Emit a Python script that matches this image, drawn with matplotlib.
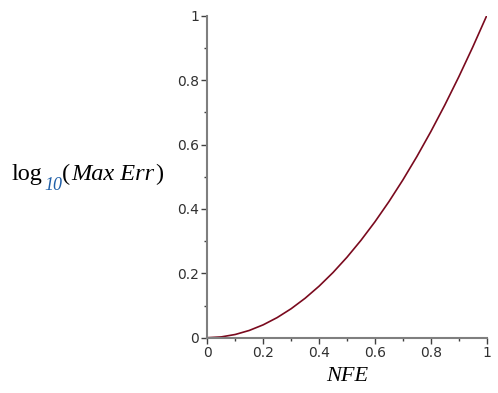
import matplotlib.pyplot as plt
from matplotlib.ticker import MultipleLocator
from matplotlib.transforms import IdentityTransform

# values
nfe = [0.0, 0.05, 0.1, 0.15, 0.2, 0.25, 0.3, 0.35, 0.4, 0.45, 0.5,
       0.55, 0.6, 0.65, 0.7, 0.75, 0.8, 0.85, 0.9, 0.95, 1.0]
max_err = [0.0, 0.0025, 0.01, 0.0225, 0.04, 0.0625, 0.09, 0.1225, 0.16, 0.2025, 0.25,
           0.3025, 0.36, 0.4225, 0.49, 0.5625, 0.64, 0.7225, 0.81, 0.9025, 1.0]
tick_vals = [0, 0.2, 0.4, 0.6, 0.8, 1]
tick_labels = ["0", "0.2", "0.4", "0.6", "0.8", "1"]

fig = plt.figure(figsize=(4.98, 3.93), dpi=100)
ax = fig.add_axes([0.4163, 0.1407, 0.561, 0.8193])

ax.plot(nfe, max_err, color="#7a0a1e", lw=1.2)

ax.set_xlim(0, 1)
ax.set_ylim(0, 1)
for s in ["top", "right"]:
    ax.spines[s].set_visible(False)
for s in ["left", "bottom"]:
    ax.spines[s].set_color("#7f7f7f")
    ax.spines[s].set_linewidth(1.5)

ax.set_xticks(tick_vals)
ax.set_xticklabels(tick_labels)
ax.set_yticks(tick_vals)
ax.set_yticklabels(tick_labels)
ax.xaxis.set_minor_locator(MultipleLocator(0.1))
ax.yaxis.set_minor_locator(MultipleLocator(0.1))
ax.tick_params(which="major", length=4, width=1, color="#404040",
               labelsize=10, labelcolor="#303030", pad=2)
ax.tick_params(which="minor", length=2.5, width=1, color="#404040")

# x label
fig.text(0.697, 0.043, "NFE", family="Liberation Serif", style="italic",
         fontsize=16, ha="center", va="center")

# y label built from pieces so the subscript can be blue
# (pixel coords, origin bottom-left)
renderer = fig.canvas.get_renderer()
H = 393
base = H - 180
sub = H - 190
pieces = [("log", "normal", 17.5, "black", base, 0),
          ("10", "italic", 13, "#1f5fa8", sub, 1),
          ("(", "normal", 17.5, "black", base, 0),
          ("Max Err", "italic", 17.5, "black", base, 1),
          (")", "normal", 17.5, "black", base, 1)]
x = 12
for s, st, fs, col, y, gap in pieces:
    t = fig.text(x + gap, y, s, family="Liberation Serif", style=st, fontsize=fs,
                 color=col, ha="left", va="baseline", transform=IdentityTransform())
    x = t.get_window_extent(renderer).x1

fig.savefig("out.png", dpi=100)
